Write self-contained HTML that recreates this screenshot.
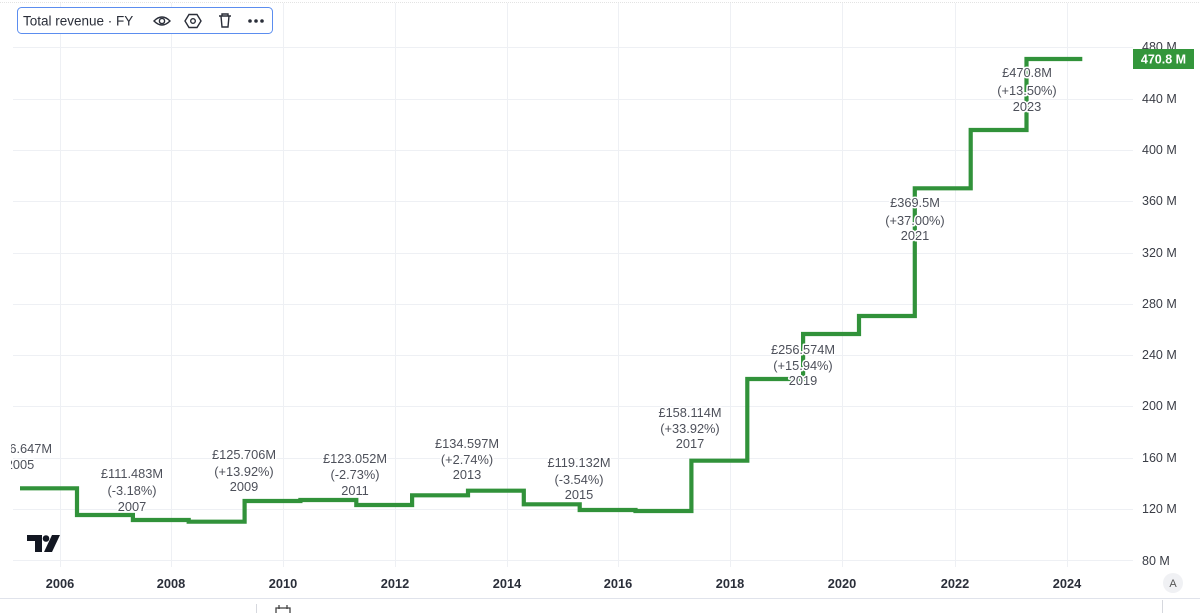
<!DOCTYPE html>
<html><head><meta charset="utf-8"><style>
html,body{margin:0;padding:0;background:#fff;}
svg{display:block;font-family:"Liberation Sans",sans-serif;}
</style></head><body>
<svg width="1200" height="613" viewBox="0 0 1200 613" xmlns="http://www.w3.org/2000/svg">
<defs><clipPath id="pane"><rect x="11" y="0" width="1122" height="598"/></clipPath></defs>
<rect width="1200" height="613" fill="#fff"/>
<line x1="0" y1="2.5" x2="1200" y2="2.5" stroke="#e3e3e3" stroke-width="1" stroke-dasharray="1,1"/>
<!-- horizontal grid -->
<g stroke="#eef0f4" stroke-width="1">
<line x1="13" y1="47.5" x2="1133" y2="47.5"/>
<line x1="13" y1="99.5" x2="1133" y2="99.5"/>
<line x1="13" y1="150.5" x2="1133" y2="150.5"/>
<line x1="13" y1="201.5" x2="1133" y2="201.5"/>
<line x1="13" y1="253.5" x2="1133" y2="253.5"/>
<line x1="13" y1="304.5" x2="1133" y2="304.5"/>
<line x1="13" y1="355.5" x2="1133" y2="355.5"/>
<line x1="13" y1="406.5" x2="1133" y2="406.5"/>
<line x1="13" y1="458.5" x2="1133" y2="458.5"/>
<line x1="13" y1="509.5" x2="1133" y2="509.5"/>
<line x1="13" y1="560.5" x2="1133" y2="560.5"/>
</g>
<!-- vertical grid -->
<g stroke="#eef0f4" stroke-width="1">
<line x1="60.5" y1="3" x2="60.5" y2="567"/>
<line x1="171.5" y1="3" x2="171.5" y2="567"/>
<line x1="283.5" y1="3" x2="283.5" y2="567"/>
<line x1="395.5" y1="3" x2="395.5" y2="567"/>
<line x1="507.5" y1="3" x2="507.5" y2="567"/>
<line x1="618.5" y1="3" x2="618.5" y2="567"/>
<line x1="730.5" y1="3" x2="730.5" y2="567"/>
<line x1="842.5" y1="3" x2="842.5" y2="567"/>
<line x1="955.5" y1="3" x2="955.5" y2="567"/>
<line x1="1067.5" y1="3" x2="1067.5" y2="567"/>
</g>
<!-- step line -->
<path clip-path="url(#pane)" fill="none" stroke="#31923a" stroke-width="4.2" stroke-linejoin="miter" d="
M20,488.3 H77 V515 H132.9 V520 H188.7 V521.7 H244.6 V501 H300.4 V500 H356.3 V505 H412.1 V495.3 H468 V490.7 H523.8 V504.3 H579.7 V510 H635.5 V511 H691.4 V460.7 H747.3 V379 H803.1 V334 H859 V316 H914.8 V188.3 H970.7 V130 H1026.5 V59 H1082.3"/>
<!-- labels -->
<g clip-path="url(#pane)" font-size="12.8" fill="#4d505a" text-anchor="middle" stroke="#fff" stroke-width="3" paint-order="stroke" stroke-linejoin="round">
<text x="20" y="453">£136.647M</text><text x="20" y="469">2005</text>
<text x="132" y="478">£111.483M</text><text x="132" y="495">(-3.18%)</text><text x="132" y="511">2007</text>
<text x="244" y="459">£125.706M</text><text x="244" y="476">(+13.92%)</text><text x="244" y="491">2009</text>
<text x="355" y="463">£123.052M</text><text x="355" y="479">(-2.73%)</text><text x="355" y="495">2011</text>
<text x="467" y="448">£134.597M</text><text x="467" y="464">(+2.74%)</text><text x="467" y="479">2013</text>
<text x="579" y="467">£119.132M</text><text x="579" y="484">(-3.54%)</text><text x="579" y="499">2015</text>
<text x="690" y="417">£158.114M</text><text x="690" y="433">(+33.92%)</text><text x="690" y="448">2017</text>
<text x="803" y="354">£256.574M</text><text x="803" y="370">(+15.94%)</text><text x="803" y="385">2019</text>
<text x="915" y="207">£369.5M</text><text x="915" y="225">(+37.00%)</text><text x="915" y="240">2021</text>
<text x="1027" y="77">£470.8M</text><text x="1027" y="95">(+13.50%)</text><text x="1027" y="111">2023</text>
</g>
<!-- right axis -->
<g font-size="12.5" fill="#3a3d46">
<text x="1142" y="51">480 M</text>
<text x="1142" y="103">440 M</text>
<text x="1142" y="154">400 M</text>
<text x="1142" y="205">360 M</text>
<text x="1142" y="257">320 M</text>
<text x="1142" y="308">280 M</text>
<text x="1142" y="359">240 M</text>
<text x="1142" y="410">200 M</text>
<text x="1142" y="462">160 M</text>
<text x="1142" y="513">120 M</text>
<text x="1142" y="565">80 M</text>
</g>
<rect x="1133" y="49" width="61" height="20" fill="#33963b"/>
<text x="1163.5" y="63.5" font-size="12.5" font-weight="bold" fill="#fff" text-anchor="middle">470.8 M</text>
<!-- x axis -->
<g font-size="12.8" font-weight="bold" fill="#2a2e39" text-anchor="middle">
<text x="60" y="588">2006</text>
<text x="171" y="588">2008</text>
<text x="283" y="588">2010</text>
<text x="395" y="588">2012</text>
<text x="507" y="588">2014</text>
<text x="618" y="588">2016</text>
<text x="730" y="588">2018</text>
<text x="842" y="588">2020</text>
<text x="955" y="588">2022</text>
<text x="1067" y="588">2024</text>
</g>
<circle cx="1173" cy="583" r="10" fill="#f0f1f4"/>
<text x="1173" y="587" font-size="11" fill="#555" text-anchor="middle">A</text>
<line x1="0" y1="598.5" x2="1200" y2="598.5" stroke="#e0e3eb"/>
<line x1="256.5" y1="604" x2="256.5" y2="613" stroke="#d6d8de"/>
<line x1="1162.5" y1="600" x2="1162.5" y2="613" stroke="#d6d8de"/>
<g stroke="#444" stroke-width="1.3" fill="none">
<rect x="276" y="608" width="14" height="8"/><line x1="279" y1="605" x2="279" y2="609"/><line x1="287" y1="605" x2="287" y2="609"/>
</g>
<!-- TV logo -->
<g fill="#131722">
<path d="M27,535 H42 V552 H35 V541 H27 Z"/>
<circle cx="46" cy="538.5" r="3.3"/>
<path d="M52,535 H60 L52,552 H44 Z"/>
</g>
<!-- legend -->
<rect x="17.5" y="7.5" width="255" height="26" rx="4" fill="#fff" stroke="#5b8def"/>
<text x="23" y="25.5" font-size="13.5" fill="#2a2e39">Total revenue · FY</text>
<g stroke="#2a2e39" stroke-width="1.4" fill="none">
<path d="M154,21 Q162,13 170,21 Q162,29 154,21 Z"/><circle cx="162" cy="21" r="2.6"/>
<path d="M189,14.5 L197,14.5 L201,21 L197,27.5 L189,27.5 L185,21 Z"/><circle cx="193" cy="21" r="2.3"/>
<path d="M219,16 H231 M222,16 V14 H228 V16 M221,16 L222,27 H228 L229,16"/>
</g>
<g fill="#2a2e39"><circle cx="250" cy="21" r="1.8"/><circle cx="256" cy="21" r="1.8"/><circle cx="262" cy="21" r="1.8"/></g>
</svg>
</body></html>
